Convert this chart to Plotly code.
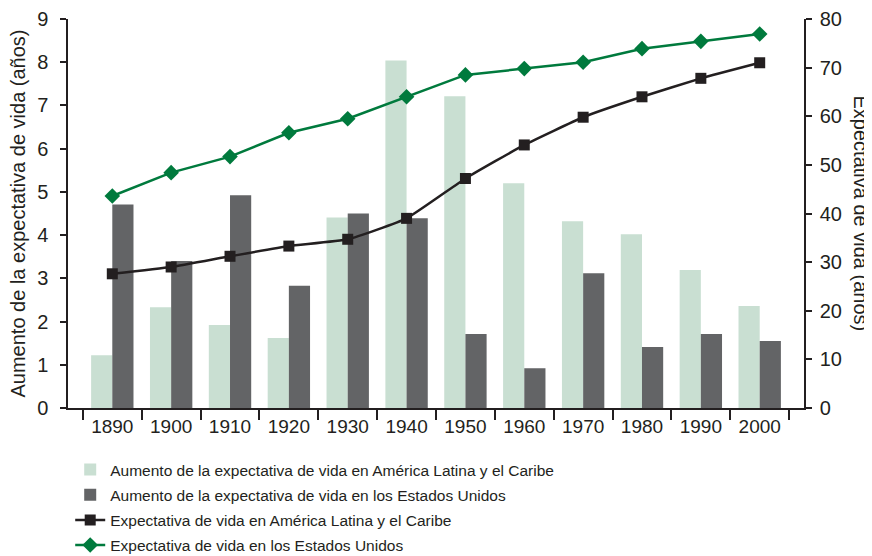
import plotly.graph_objects as go

years = ["1890", "1900", "1910", "1920", "1930", "1940", "1950", "1960", "1970", "1980", "1990", "2000"]
aumento_alc = [1.22, 2.33, 1.92, 1.62, 4.41, 8.04, 7.21, 5.20, 4.32, 4.02, 3.19, 2.36]
aumento_eeuu = [4.71, 3.40, 4.92, 2.83, 4.50, 4.39, 1.71, 0.92, 3.12, 1.41, 1.71, 1.55]
expectativa_alc = [27.6, 29.0, 31.2, 33.3, 34.7, 39.0, 47.2, 54.1, 59.8, 64.0, 67.8, 71.0]
expectativa_eeuu = [43.6, 48.4, 51.7, 56.6, 59.5, 64.0, 68.5, 69.8, 71.1, 73.9, 75.4, 76.9]
titulo_izq = "Aumento de la expectativa de vida (años)"
titulo_der = "Expectativa de vida (años)"

font_family = "Liberation Sans, Arial, sans-serif"
text_color = "#231f20"

fig = go.Figure()
fig.add_trace(go.Bar(x=years, y=aumento_alc, name="Aumento de la expectativa de vida en América Latina y el Caribe",
                     legendgroup="a", marker=dict(color="#c9dfd2", line=dict(width=0))))
fig.add_trace(go.Bar(x=years, y=aumento_eeuu, name="Aumento de la expectativa de vida en los Estados Unidos",
                     legendgroup="b", marker=dict(color="#636466", line=dict(width=0))))
fig.add_trace(go.Scatter(x=years, y=expectativa_alc, name="Expectativa de vida en América Latina y el Caribe",
                         legendgroup="c", yaxis="y2", mode="lines+markers",
                         line=dict(color="#231f20", width=2.5, shape="spline", smoothing=0.4),
                         marker=dict(symbol="square", size=11, color="#231f20")))
fig.add_trace(go.Scatter(x=years, y=expectativa_eeuu, name="Expectativa de vida en los Estados Unidos",
                         legendgroup="d", yaxis="y2", mode="lines+markers",
                         line=dict(color="#007a3d", width=2.5),
                         marker=dict(symbol="diamond", size=12, color="#007a3d")))

fig.update_layout(
    width=864, height=548,
    margin=dict(l=60, r=68, t=11, b=148, autoexpand=False),
    paper_bgcolor="white", plot_bgcolor="white",
    font=dict(family=font_family, size=20, color=text_color),
    barmode="group", bargap=0.28, bargroupgap=0,
    showlegend=True,
    legend=dict(x=0.003, y=-0.1157, xanchor="left", yanchor="top",
                orientation="v", font=dict(size=15.5, color=text_color), tracegroupgap=2, itemwidth=30,
                traceorder="grouped", bgcolor="rgba(0,0,0,0)"),
    xaxis=dict(type="category", showline=True, linecolor="#231f20", linewidth=1.5,
               ticks="outside", tickson="boundaries", ticklen=10, tickcolor="#231f20", tickwidth=1.5,
               tickfont=dict(size=19), showgrid=False, zeroline=False, automargin=False),
    yaxis=dict(range=[0, 9], dtick=1, showline=True, linecolor="#231f20", linewidth=1.5,
               ticks="outside", ticklen=6, tickcolor="#231f20", tickwidth=1.5, ticklabelstandoff=8,
               showgrid=False, zeroline=False, tickfont=dict(size=20), automargin=False),
    yaxis2=dict(range=[0, 80], dtick=10, overlaying="y", side="right", showline=True,
                linecolor="#231f20", linewidth=1.5, ticks="outside", ticklen=6, tickcolor="#231f20",
                tickwidth=1.5, ticklabelstandoff=4, showgrid=False, zeroline=False, tickfont=dict(size=20),
                automargin=False),
    annotations=[
        dict(text=titulo_izq, xref="paper", yref="paper", x=0, y=0.5, xanchor="center", yanchor="middle",
             xshift=-51, textangle=-90, showarrow=False, font=dict(size=20, color=text_color)),
        dict(text=titulo_der, xref="paper", yref="paper", x=1, y=0.5, xanchor="center", yanchor="middle",
             xshift=57, textangle=90, showarrow=False, font=dict(size=20, color=text_color)),
    ],
)

fig.write_html("out.html")
